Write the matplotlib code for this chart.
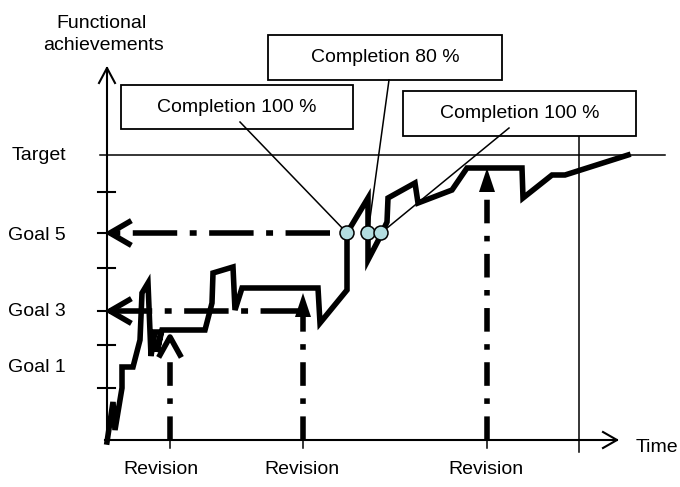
import matplotlib
matplotlib.use("Agg")
import matplotlib.pyplot as plt
from matplotlib.patches import Rectangle, Circle

plt.rcParams['font.family'] = ['Liberation Sans', 'DejaVu Sans']
plt.rcParams['lines.scale_dashes'] = False

# === Daten (Bildkoordinaten: x = Zeit, y = Leistungsniveau, y nach unten) ===
# Verlauf der funktionalen Leistung
zeit = [107, 113, 115, 122, 122, 133, 140, 142, 148, 151, 155, 161, 157, 162,
        205, 212, 213, 233, 235, 242, 318, 320, 347, 347, 368, 368, 380, 387,
        388, 415, 418, 452, 467, 522, 523, 552, 565, 628]
leistung = [442, 402, 430, 388, 367, 367, 340, 293, 283, 356, 332, 332, 352, 330,
            330, 303, 273, 267, 310, 288, 288, 323, 290, 233, 198, 260, 237, 222,
            198, 183, 203, 190, 168, 168, 198, 175, 175, 155]

# Achsenskala
y_ticks = [155, 192, 233, 268, 311, 345, 388]
y_labels = ['Target', 'Goal 5', 'Goal 3', 'Goal 1']
y_label_pos = [155, 236, 311, 367]

# Ziele (horizontale Pfeile) und Revisionen (vertikale Pfeile)
ziel_level = [233, 311]
ziel_ende = [330, 305]
revision_zeit = [170, 303, 487]
revision_spitze = [335, 293, 168]
revision_gefuellt = [False, True, True]
revision_label_x = [161, 302, 486]

# Fertigstellungspunkte und Beschriftungen
punkte_x = [347, 368, 381]
punkte_y = [233, 233, 233]
box_text = ['Completion 100 %', 'Completion 80 %', 'Completion 100 %']
box_rect = [(121, 85, 232, 44), (268, 35, 234, 45), (403, 91, 233, 45)]
box_anker = [(240, 122), (389, 80), (509, 128)]

ende_zeit = 579

# === Plot ===
fig = plt.figure(figsize=(6.8, 4.87), dpi=100)
ax = fig.add_axes([0, 0, 1, 1])
ax.set_xlim(0, 680)
ax.set_ylim(487, 0)
ax.axis('off')

x0, y0 = 107, 440
fs = 14

# Achsen mit offenen Pfeilspitzen
ax.plot([x0, x0], [y0 + 3, 68], color='black', lw=1.5)
ax.plot([x0 - 8, x0, x0 + 8], [83, 68, 83], color='black', lw=1.5)
ax.plot([x0 - 2, 617], [y0, y0], color='black', lw=1.5)
ax.plot([603, 617, 603], [y0 - 8, y0, y0 + 8], color='black', lw=1.5)

for yt in y_ticks[1:]:
    ax.plot([x0 - 9, x0 + 8], [yt, yt], color='black', lw=1.5)
ax.plot([100, 665], [y_ticks[0], y_ticks[0]], color='black', lw=1.1)
ax.plot([ende_zeit, ende_zeit], [136, 452], color='black', lw=1.1)

for lab, yp in zip(y_labels, y_label_pos):
    ax.text(8 if lab != 'Target' else 12, yp, lab, fontsize=fs, va='center', ha='left')
ax.text(101, 23, 'Functional', fontsize=fs, ha='center', va='center')
ax.text(103, 45, 'achievements', fontsize=fs, ha='center', va='center')
ax.text(636, 447, 'Time', fontsize=fs, ha='left', va='center')

# Dash-Dot-Pfeile zu den Zielen
for yl, xe in zip(ziel_level, ziel_ende):
    ax.plot([xe, x0 + 2], [yl, yl], color='black', lw=4,
            linestyle=(0, (32, 9, 5, 9)), solid_capstyle='butt')
    ax.plot([x0 + 22, x0 + 3, x0 + 22], [yl - 11, yl, yl + 11], color='black', lw=4,
            solid_joinstyle='miter')

# Revisionen
for xr, ys, gef, xl in zip(revision_zeit, revision_spitze, revision_gefuellt, revision_label_x):
    ax.plot([xr, xr], [y0 + 8, y0], color='black', lw=1.1)
    ax.plot([xr, xr], [y0, ys + 22], color='black', lw=4,
            linestyle=(0, (17, 9, 4, 9)), solid_capstyle='butt')
    if gef:
        ax.fill([xr - 8, xr, xr + 8], [ys + 24, ys, ys + 24], color='black', lw=0)
    else:
        ax.plot([xr - 10, xr, xr + 10], [ys + 20, ys + 2, ys + 20], color='black', lw=4)
    ax.text(xl, 470, 'Revision', fontsize=fs, ha='center', va='center')

# Leistungsverlauf
ax.plot(zeit, leistung, color='black', lw=4, solid_joinstyle='miter', zorder=4)

# Callouts
for (bx, by, bw, bh), txt, (axp, ayp), px, py in zip(box_rect, box_text, box_anker, punkte_x, punkte_y):
    ax.add_patch(Rectangle((bx, by), bw, bh, facecolor='white', edgecolor='black', lw=1.3, zorder=5))
    ax.text(bx + bw / 2, by + bh / 2, txt, fontsize=fs, ha='center', va='center', zorder=6)
    ax.plot([axp, px], [ayp, py], color='black', lw=1.1, zorder=5)

for px, py in zip(punkte_x, punkte_y):
    ax.add_patch(Circle((px, py), 7, facecolor='#b3dde0', edgecolor='black', lw=1.1, zorder=7))

fig.savefig('out.png', dpi=100)
